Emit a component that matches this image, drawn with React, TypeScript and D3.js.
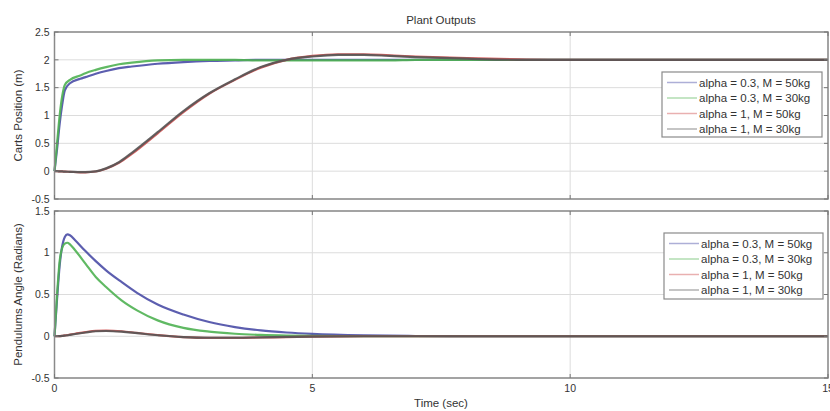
import * as d3 from "d3";

// time axis for the cart position plot (sec)
const tCart = [0, 0.05, 0.1, 0.15, 0.2, 0.3, 0.5, 0.6, 0.8, 1.0, 1.25, 1.5, 2.0, 2.5, 3.0, 3.5, 4.0, 4.5, 5.0, 5.5, 6.0, 6.5, 7.0, 8.0, 9.0, 10, 12, 15];
const cartA03M50 = [0, 0.4, 0.85, 1.2, 1.45, 1.58, 1.66, 1.69, 1.75, 1.8, 1.85, 1.88, 1.93, 1.96, 1.98, 1.99, 2.0, 2.0, 2.0, 2.0, 2.0, 2.0, 2.0, 2.0, 2.0, 2.0, 2.0, 2.0];
const cartA03M30 = [0, 0.5, 1.0, 1.35, 1.55, 1.64, 1.72, 1.76, 1.82, 1.87, 1.92, 1.95, 1.99, 2.0, 2.0, 2.0, 1.99, 1.99, 1.99, 1.99, 1.99, 1.99, 2.0, 2.0, 2.0, 2.0, 2.0, 2.0];
const cartA1M50 = [0, -0.001, -0.003, -0.005, -0.008, -0.012, -0.02, -0.02, -0.006, 0.045, 0.15, 0.31, 0.68, 1.06, 1.39, 1.64, 1.86, 2.0, 2.07, 2.1, 2.1, 2.08, 2.06, 2.03, 2.01, 2.0, 2.0, 2.0];
const cartA1M30 = [0, -0.001, -0.003, -0.005, -0.008, -0.011, -0.018, -0.018, -0.004, 0.05, 0.16, 0.33, 0.7, 1.08, 1.4, 1.65, 1.87, 2.0, 2.06, 2.09, 2.09, 2.07, 2.05, 2.02, 2.0, 2.0, 2.0, 2.0];

// time axis for the pendulum angle plot (sec)
const tAngle = [0, 0.05, 0.1, 0.15, 0.2, 0.25, 0.3, 0.4, 0.6, 0.8, 1.0, 1.3, 1.6, 2.0, 2.5, 3.0, 3.5, 4.0, 4.5, 5.0, 6.0, 7.0, 8.0, 10, 15];
const angA03M50 = [0, 0.45, 0.85, 1.08, 1.19, 1.22, 1.21, 1.15, 1.02, 0.9, 0.79, 0.65, 0.52, 0.38, 0.26, 0.17, 0.11, 0.07, 0.045, 0.028, 0.01, 0.003, 0, 0, 0];
const angA03M30 = [0, 0.5, 0.9, 1.06, 1.11, 1.12, 1.1, 1.03, 0.87, 0.71, 0.59, 0.43, 0.31, 0.19, 0.1, 0.055, 0.03, 0.016, 0.008, 0.004, 0, 0, 0, 0, 0];
const angA1M50 = [0, 0, 0.002, 0.005, 0.01, 0.014, 0.02, 0.03, 0.05, 0.065, 0.068, 0.06, 0.04, 0.015, -0.01, -0.02, -0.02, -0.015, -0.01, -0.005, 0, 0, 0, 0, 0];
const angA1M30 = [0, 0, 0.002, 0.004, 0.008, 0.012, 0.017, 0.027, 0.045, 0.06, 0.063, 0.055, 0.037, 0.012, -0.01, -0.018, -0.018, -0.014, -0.008, -0.004, 0, 0, 0, 0, 0];

const seriesNames = ["alpha = 0.3, M = 50kg", "alpha = 0.3, M = 30kg", "alpha = 1, M = 50kg", "alpha = 1, M = 30kg"];
const seriesColors = ["#4a4da6", "#4fb152", "#cf4f4f", "#555555"];

const xTicks = [0, 5, 10, 15];
const cartTicks = [-0.5, 0, 0.5, 1, 1.5, 2, 2.5];
const angleTicks = [-0.5, 0, 0.5, 1, 1.5];

const FONT = "'Liberation Sans', Arial, sans-serif";
const W = 830;
const H = 411;

const x = d3.scaleLinear().domain([0, 15]).range([54.5, 828]);

type PanelProps = {
  t: number[];
  series: number[][];
  yDomain: [number, number];
  yRange: [number, number];
  yTicks: number[];
  yLabel: string;
  showXLabels: boolean;
  legend: { x: number; y: number; w: number; h: number };
};

function Panel({ t, series, yDomain, yRange, yTicks, yLabel, showXLabels, legend }: PanelProps) {
  const y = d3.scaleLinear().domain(yDomain).range(yRange);
  const [x0, x1] = x.range();
  const [yb, yt] = yRange;
  const line = d3
    .line<number>()
    .x((_, i) => x(t[i]))
    .y((d) => y(d))
    .curve(d3.curveMonotoneX);

  return (
    <g>
      {/* grid */}
      {yTicks.map((v) => (
        <line key={"gy" + v} x1={x0} x2={x1} y1={y(v)} y2={y(v)} stroke="#dcdcdc" strokeWidth={1} />
      ))}
      {xTicks.map((v) => (
        <line key={"gx" + v} x1={x(v)} x2={x(v)} y1={yt} y2={yb} stroke="#dcdcdc" strokeWidth={1} />
      ))}

      {/* data */}
      {series.map((s, i) => (
        <path key={i} d={line(s) ?? ""} fill="none" stroke={seriesColors[i]} strokeWidth={2.2} strokeOpacity={0.9} />
      ))}

      {/* box */}
      <rect x={x0} y={yt} width={x1 - x0} height={yb - yt} fill="none" stroke="#8a8a8a" strokeWidth={1.5} />

      {/* ticks */}
      {yTicks.map((v) => (
        <g key={"ty" + v}>
          <line x1={x0} x2={x0 + 4} y1={y(v)} y2={y(v)} stroke="#777" />
          <line x1={x1} x2={x1 - 4} y1={y(v)} y2={y(v)} stroke="#777" />
          <text x={x0 - 5} y={y(v)} dy="0.35em" textAnchor="end" fontSize={10.5} fill="#333" fontFamily={FONT}>
            {v}
          </text>
        </g>
      ))}
      {xTicks.map((v) => (
        <g key={"tx" + v}>
          <line x1={x(v)} x2={x(v)} y1={yb} y2={yb - 4} stroke="#777" />
          <line x1={x(v)} x2={x(v)} y1={yt} y2={yt + 4} stroke="#777" />
          {showXLabels && (
            <text x={x(v)} y={yb + 14} textAnchor="middle" fontSize={10.5} fill="#333" fontFamily={FONT}>
              {v}
            </text>
          )}
        </g>
      ))}

      {/* y label */}
      <text
        transform={`translate(22,${(yt + yb) / 2}) rotate(-90)`}
        textAnchor="middle"
        fontSize={11.5}
        fill="#333"
        fontFamily={FONT}
      >
        {yLabel}
      </text>

      {/* legend */}
      <rect x={legend.x} y={legend.y} width={legend.w} height={legend.h} fill="#fff" stroke="#8a8a8a" strokeWidth={1.2} />
      {seriesNames.map((name, i) => {
        const ry = legend.y + 10.5 + i * 15.5;
        return (
          <g key={name}>
            <line x1={legend.x + 5} x2={legend.x + 35} y1={ry} y2={ry} stroke={seriesColors[i]} strokeWidth={1.5} strokeOpacity={0.45} />
            <text x={legend.x + 37} y={ry} dy="0.35em" fontSize={11.5} fill="#333" fontFamily={FONT}>
              {name}
            </text>
          </g>
        );
      })}
    </g>
  );
}

export default function App() {
  return (
    <div style={{ position: "absolute", left: 0, top: 0 }}>
      <svg width={W} height={H} style={{ display: "block", background: "#fff" }}>
        <text x={441} y={20} dy="0.35em" textAnchor="middle" fontSize={11.5} fill="#333" fontFamily={FONT}>
          Plant Outputs
        </text>
        <Panel
          t={tCart}
          series={[cartA03M50, cartA03M30, cartA1M50, cartA1M30]}
          yDomain={[-0.5, 2.5]}
          yRange={[199, 32]}
          yTicks={cartTicks}
          yLabel="Carts Position (m)"
          showXLabels={false}
          legend={{ x: 662, y: 72, w: 160, h: 65 }}
        />
        <Panel
          t={tAngle}
          series={[angA03M50, angA03M30, angA1M50, angA1M30]}
          yDomain={[-0.5, 1.5]}
          yRange={[378, 211]}
          yTicks={angleTicks}
          yLabel="Pendulums Angle (Radians)"
          showXLabels={true}
          legend={{ x: 664, y: 233, w: 159, h: 66 }}
        />
        <text x={441} y={403} dy="0.35em" textAnchor="middle" fontSize={11.5} fill="#333" fontFamily={FONT}>
          Time (sec)
        </text>
      </svg>
    </div>
  );
}
